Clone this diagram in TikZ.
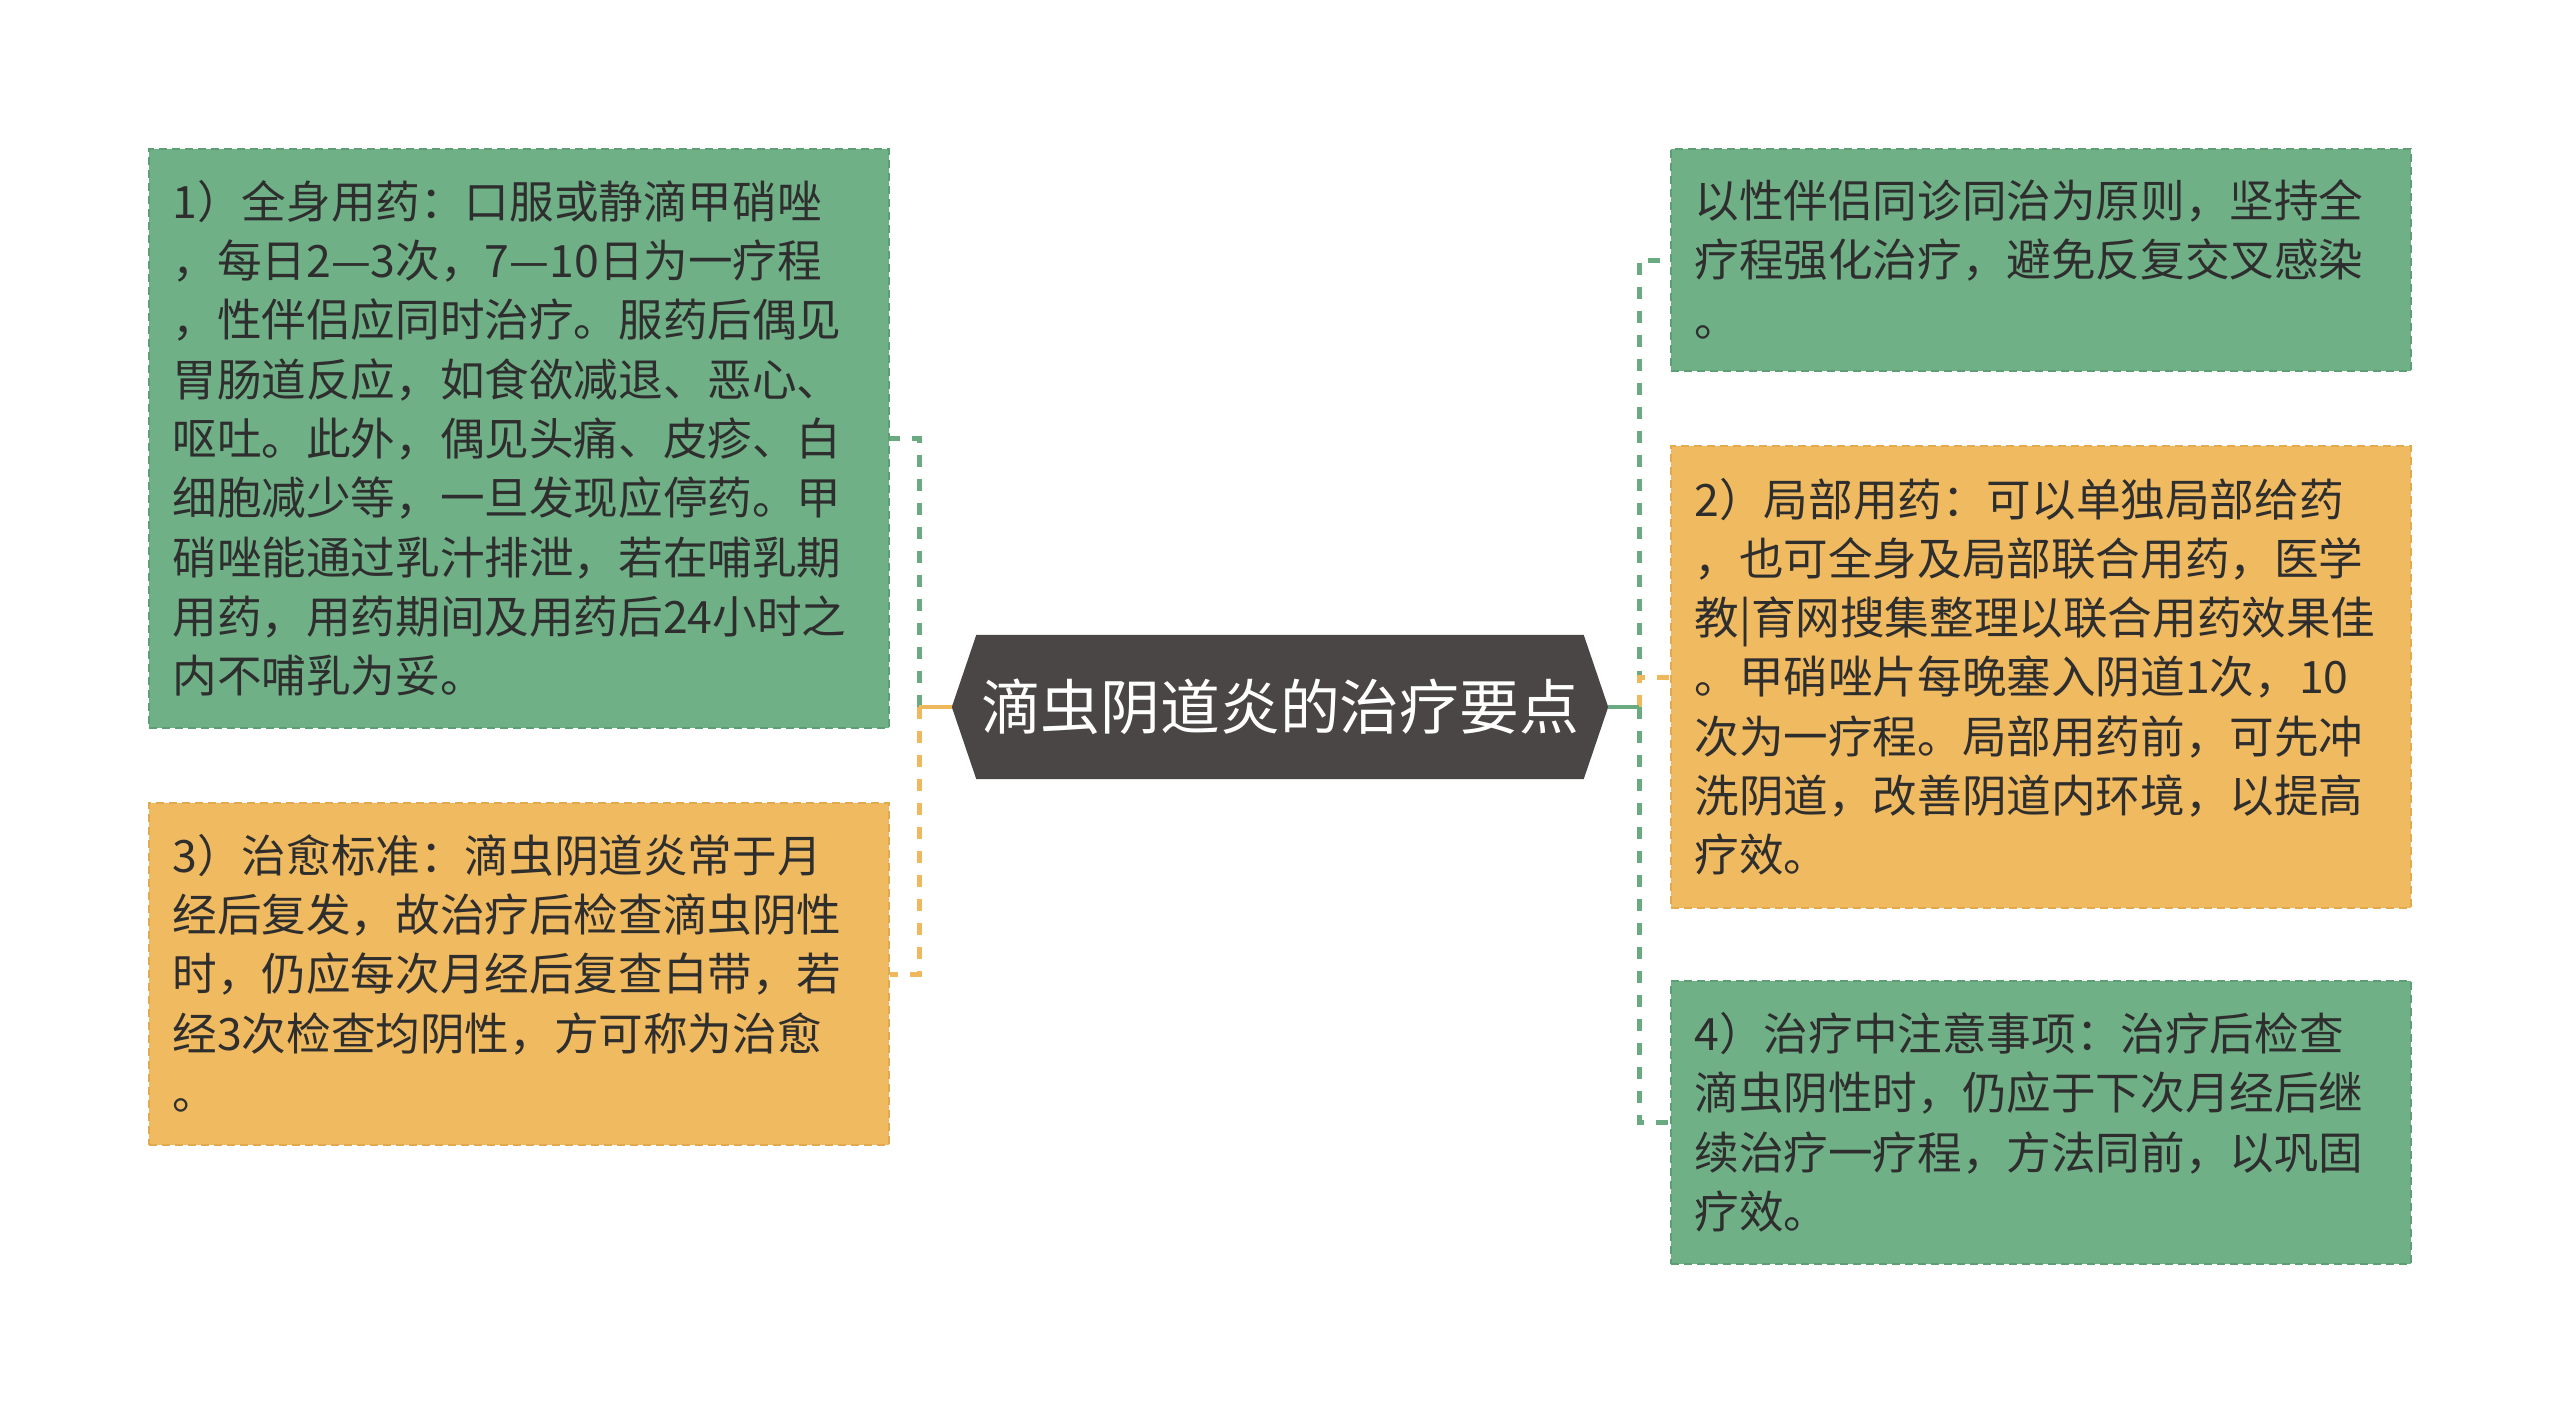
\documentclass[tikz,border=0pt]{standalone}
\usepackage{fontspec}
\newfontfamily\cjk{Noto Sans CJK SC}
\usetikzlibrary{backgrounds}
\definecolor{gfill}{HTML}{70B087}
\definecolor{gline}{HTML}{5E9E74}
\definecolor{ofill}{HTML}{F0BA60}
\definecolor{oline}{HTML}{E2A94F}
\definecolor{cfill}{HTML}{4B4646}
\definecolor{txt}{HTML}{2E2E2E}
\definecolor{gconn}{HTML}{6AAA80}
\definecolor{oconn}{HTML}{F0B85C}
\newcommand\ms{\vrule height 0.88em depth 0.12em width 0pt}
\begin{document}
\begin{tikzpicture}[x=1pt,y=-1pt,
  box/.style={draw, dash pattern=on 8pt off 5pt, line width=2pt,
    minimum width=740pt, text width=692pt, inner xsep=24pt, inner ysep=0pt,
    align=left, font=\cjk\fontsize{44.6pt}{59.3pt}\selectfont, text=txt},
  gbox/.style={box, fill=gfill, draw=gline},
  obox/.style={box, fill=ofill, draw=oline},
  gdash/.style={draw=gconn, line width=5pt, dash pattern=on 12pt off 12pt},
  odash/.style={draw=oconn, line width=5pt, dash pattern=on 12pt off 12pt},
  gstub/.style={draw=gconn, line width=4.5pt},
  ostub/.style={draw=oconn, line width=4.5pt},
  hub/.style={minimum width=656pt, minimum height=144pt, inner sep=0pt,
    text=white, font=\cjk\fontsize{59.8pt}{70pt}\selectfont}
]
\useasboundingbox (0,0) rectangle (2560,1414);

\node[gbox, minimum height=579pt] (b1) at (518.5,438.5) {\ms 1）全身用药：口服或静滴甲硝唑\\
，每日2—3次，7—10日为一疗程\\
，性伴侣应同时治疗。服药后偶见\\
胃肠道反应，如食欲减退、恶心、\\
呕吐。此外，偶见头痛、皮疹、白\\
细胞减少等，一旦发现应停药。甲\\
硝唑能通过乳汁排泄，若在哺乳期\\
用药，用药期间及用药后24小时之\\
\ms 内不哺乳为妥。};

\node[obox, minimum height=342pt] (b3) at (518.5,974) {\ms 3）治愈标准：滴虫阴道炎常于月\\
经后复发，故治疗后检查滴虫阴性\\
时，仍应每次月经后复查白带，若\\
经3次检查均阴性，方可称为治愈\\
\ms 。};

\node[gbox, minimum height=222pt] (r1) at (2040.5,260) {\ms 以性伴侣同诊同治为原则，坚持全\\
疗程强化治疗，避免反复交叉感染\\
\ms 。};

\node[obox, minimum height=462pt] (r2) at (2040.5,677) {\ms 2）局部用药：可以单独局部给药\\
，也可全身及局部联合用药，医学\\
教|育网搜集整理以联合用药效果佳\\
。甲硝唑片每晚塞入阴道1次，10\\
次为一疗程。局部用药前，可先冲\\
洗阴道，改善阴道内环境，以提高\\
\ms 疗效。};

\node[gbox, minimum height=283pt] (r4) at (2040.5,1122.5) {\ms 4）治疗中注意事项：治疗后检查\\
滴虫阴性时，仍应于下次月经后继\\
续治疗一疗程，方法同前，以巩固\\
\ms 疗效。};

\node[hub] (c) at (1280,707) {\ms 滴虫阴道炎的治疗要点};

\begin{scope}[on background layer]
\fill[white] (0,0) rectangle (2560,1414);
\fill[cfill] (c.west) -- ([xshift=24.5pt]c.north west) -- ([xshift=-24.5pt]c.north east)
  -- (c.east) -- ([xshift=-24.5pt]c.south east) -- ([xshift=24.5pt]c.south west) -- cycle;
\end{scope}

\coordinate (L) at (919,707);
\coordinate (R) at (1639,707);
\draw[gdash] (L) |- (b1.east);
\draw[odash] (L) |- (b3.east);
\draw[ostub] (c.west) -- (L);
\draw[gdash] (R) |- (r1.west);
\draw[gdash] (R) |- (r4.west);
\draw[odash] (R) |- (r2.west);
\draw[gstub] (c.east) -- (R);
\end{tikzpicture}
\end{document}
